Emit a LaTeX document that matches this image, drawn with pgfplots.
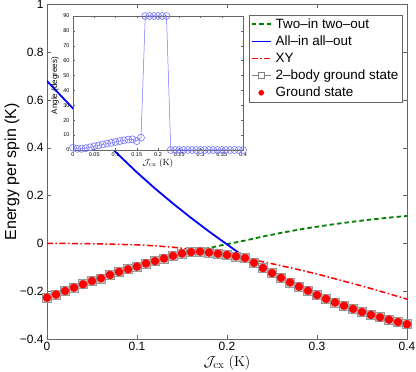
\documentclass[border=0pt]{standalone}
\usepackage[no-math]{fontspec}
\setmainfont{Liberation Sans}
\usepackage{pgfplots}
\pgfplotsset{compat=1.18}

\definecolor{mgreen}{rgb}{0,0.5,0}
\definecolor{mblue}{rgb}{0,0,1}
\definecolor{mred}{rgb}{1,0,0}
\definecolor{ablue}{rgb}{0.45,0.45,1}

% ground state (and 2-body ground state), step 0.01
\pgfplotstableread{
x y
0.00 -0.227
0.01 -0.214
0.02 -0.199
0.03 -0.185
0.04 -0.171
0.05 -0.157
0.06 -0.146
0.07 -0.132
0.08 -0.119
0.09 -0.108
0.10 -0.097
0.11 -0.084
0.12 -0.074
0.13 -0.063
0.14 -0.052
0.15 -0.042
0.16 -0.036
0.17 -0.034
0.18 -0.038
0.19 -0.043
0.20 -0.048
0.21 -0.054
0.22 -0.061
0.23 -0.081
0.24 -0.103
0.25 -0.124
0.26 -0.144
0.27 -0.163
0.28 -0.181
0.29 -0.198
0.30 -0.216
0.31 -0.232
0.32 -0.247
0.33 -0.261
0.34 -0.274
0.35 -0.287
0.36 -0.299
0.37 -0.309
0.38 -0.319
0.39 -0.329
0.40 -0.338
}\ground

\pgfplotstableread{
x y
0.00 -0.227
0.02 -0.199
0.04 -0.171
0.06 -0.146
0.08 -0.119
0.10 -0.097
0.12 -0.074
0.14 -0.052
0.15 -0.043
0.16 -0.035
0.17 -0.027
0.18 -0.019
0.19 -0.011
0.20 -0.003
0.22 0.012
0.24 0.029
0.26 0.044
0.28 0.058
0.30 0.070
0.32 0.081
0.34 0.091
0.36 0.100
0.38 0.108
0.40 0.115
}\twoin

\pgfplotstableread{
x y
0.00 0.680
0.02 0.600
0.04 0.521
0.06 0.444
0.08 0.369
0.10 0.297
0.12 0.230
0.14 0.167
0.16 0.107
0.18 0.050
0.20 -0.004
0.21 -0.031
0.22 -0.058
0.23 -0.081
0.24 -0.103
0.26 -0.144
0.28 -0.181
0.30 -0.216
0.32 -0.247
0.34 -0.274
0.36 -0.299
0.38 -0.319
0.40 -0.338
}\allin

\pgfplotstableread{
x y
0.00 0.000
0.02 0.000
0.04 -0.001
0.06 -0.002
0.08 -0.004
0.10 -0.006
0.12 -0.010
0.14 -0.016
0.16 -0.025
0.17 -0.031
0.18 -0.037
0.19 -0.043
0.20 -0.048
0.21 -0.054
0.22 -0.061
0.24 -0.077
0.26 -0.093
0.28 -0.110
0.30 -0.128
0.32 -0.148
0.34 -0.168
0.36 -0.189
0.38 -0.211
0.40 -0.233
}\xy

% inset: angle in degrees
\pgfplotstableread{
x y
0.00 1.5
0.01 0.8
0.02 0.8
0.03 1.2
0.04 1.8
0.05 2.5
0.06 3.1
0.07 3.7
0.08 4.3
0.09 4.8
0.10 5.4
0.11 6.0
0.12 6.5
0.13 7.0
0.14 7.2
0.15 6.0
0.16 8.3
0.17 90
0.18 90
0.19 90
0.20 90
0.21 90
0.22 90
0.23 0
0.24 0
0.25 0
0.26 0
0.27 0
0.28 0
0.29 0
0.30 0
0.31 0
0.32 0
0.33 0
0.34 0
0.35 0
0.36 0
0.37 0
0.38 0
0.39 0
0.40 0
}\angle

\begin{document}
\begin{tikzpicture}[x=1bp,y=1bp]
\useasboundingbox (-47,-33) rectangle (369,339);
\begin{axis}[
  at={(0,0)}, anchor=south west,
  width=360bp, height=334.5bp, scale only axis,
  xmin=0, xmax=0.4, ymin=-0.4, ymax=1,
  xtick={0,0.1,0.2,0.3,0.4},
  xticklabels={0,0.1,0.2,0.3,0.4},
  ytick={-0.4,-0.2,0,0.2,0.4,0.6,0.8,1},
  yticklabels={−0.4,−0.2,0,0.2,0.4,0.6,0.8,1},
  tick align=inside,
  major tick length=4bp,
  axis line style={black!60, line width=0.6bp},
  tick style={black!60, line width=0.5bp},
  tick label style={font=\fontsize{12}{12}\selectfont},
  xlabel={$\mathcal{J}_{\mathrm{cx}}\ (\mathrm{K})$},
  xlabel style={at={(axis description cs:0.5,-0.072)}, anchor=center, font=\fontsize{15}{15}\selectfont},
  ylabel={Energy per spin (K)},
  ylabel style={at={(axis description cs:-0.097,0.5)}, anchor=center, font=\fontsize{16}{16}\selectfont},
  legend cell align=left,
  legend image code/.code={\draw[#1] (0bp,0bp) -- (19bp,0bp);},
  legend style={at={(1,1)}, anchor=north east, xshift=-5bp, yshift=-10.5bp,
    draw=black!60, fill=white, font=\fontsize{13.5}{13.5}\selectfont,
    inner sep=1.5bp, row sep=2bp,
    /tikz/every odd column/.append style={column sep=2bp}},
]
\addplot[mgreen, line width=1.8bp, dash pattern=on 4.5bp off 3bp] table {\twoin};
\addlegendentry{Two–in two–out}
\addplot[mblue, line width=1.8bp] table {\allin};
\addlegendentry{All–in all–out}
\addplot[mred, line width=1.5bp, dash pattern=on 6bp off 2.5bp on 1.5bp off 2.5bp] table {\xy};
\addlegendentry{XY}
\addplot[gray, line width=0.5bp, mark=square*, mark size=4.5bp,
  mark options={draw=gray!80, fill=gray!45, line width=0.6bp},
  legend image code/.code={\draw[gray, line width=0.5bp] (0bp,0bp) -- (19bp,0bp);
    \draw[gray, line width=0.5bp, fill=white] (6.5bp,-3bp) rectangle (12.5bp,3bp);}] table {\ground};
\addlegendentry{2–body ground state}
\addplot[only marks, mark=*, mark size=4bp, mark options={draw=mred, fill=mred},
  legend image code/.code={\fill[mred] (9.5bp,0bp) circle (2.6bp);}] table {\ground};
\addlegendentry{Ground state}
\end{axis}

\begin{axis}[
  at={(26bp,189bp)}, anchor=south west,
  width=170bp, height=134bp, scale only axis,
  axis background/.style={fill=white},
  xmin=0, xmax=0.4, ymin=0, ymax=90,
  xtick={0,0.05,0.1,0.15,0.2,0.25,0.3,0.35,0.4},
  xticklabels={0,0.05,0.1,0.15,0.2,0.25,0.3,0.35,0.4},
  ytick={0,10,20,30,40,50,60,70,80,90},
  yticklabels={0,10,20,30,40,50,60,70,80,90},
  tick align=inside,
  major tick length=2bp,
  axis line style={black!60, line width=0.5bp},
  tick style={black!60, line width=0.4bp},
  tick label style={font=\fontsize{5.5}{5.5}\selectfont},
  xticklabel style={yshift=1bp},
  xlabel={$\mathcal{J}_{\mathrm{cx}}\ (\mathrm{K})$},
  xlabel style={at={(axis description cs:0.5,-0.1)}, anchor=center, font=\fontsize{9}{9}\selectfont},
  ylabel={Angle (degrees)},
  ylabel style={at={(axis description cs:-0.105,0.48)}, anchor=center, font=\fontsize{8}{8}\selectfont},
]
\addplot[ablue, line width=0.5bp, mark=o, mark size=3.5bp, mark options={ablue, line width=0.6bp}] table {\angle};
\end{axis}
\end{tikzpicture}
\end{document}
